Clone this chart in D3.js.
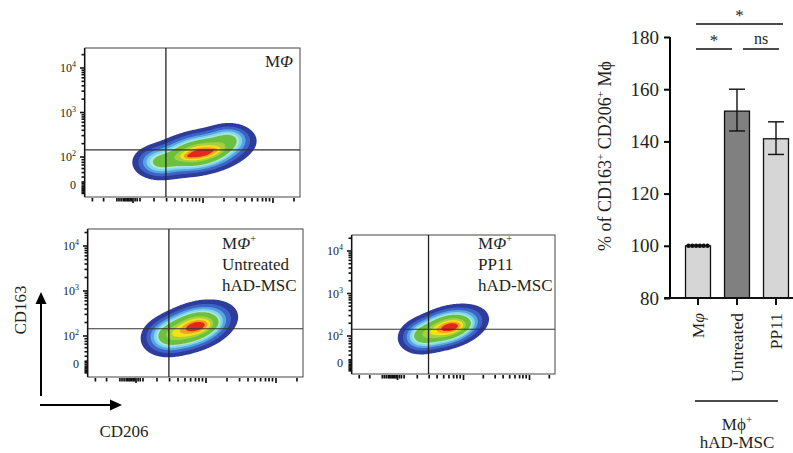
<!DOCTYPE html>
<html><head><meta charset="utf-8">
<script src="https://cdn.jsdelivr.net/npm/d3@7"></script>
<style>
body{margin:0;background:#fff}
svg{display:block}
svg text{font-family:"Liberation Serif","Times New Roman","DejaVu Serif",serif;fill:#231f20}
</style>
</head><body>
<svg id="c" width="793" height="453" font-family="Liberation Serif, Times New Roman, serif"></svg>
<script>
// ---------------- DATA ----------------
// Bar chart
const barCategories = ["Mφ", "Untreated", "PP11"];
const barMeans = [100, 151.6, 141];
const barErrLow = [100, 144, 135];
const barErrHigh = [100, 160, 147.5];
const replicateDots = [100, 100, 100, 100, 100, 100];
const barYTicks = [80, 100, 120, 140, 160, 180];
const sigFrom = [0, 0, 1];
const sigTo = [2, 1, 2];
const sigLabels = ["*", "*", "ns"];
const sigLevel = [2, 1, 1];

// Flow cytometry panels (axis values in decades of fluorescence)
const flowLabelLines = [["MΦ"], ["MΦ+", "Untreated", "hAD-MSC"], ["MΦ+", "PP11", "hAD-MSC"]];
const flowYTickValues = [1.37, 2, 3, 4];
const flowYTickLabels = ["0", "10|2", "10|3", "10|4"];
const flowGateX = [2.47, 2.47, 2.47];
const flowGateY = [2.16, 2.16, 2.16];
const flowXMinorTicks = [1.42, 1.58, 1.77, 1.8, 1.83, 1.86, 1.88, 1.9, 1.92, 1.94, 1.96, 1.98, 2.0, 2.03, 2.06, 2.1,
  2.3, 2.48, 2.6, 2.7, 2.78, 2.85, 2.9, 2.95, 3.0, 3.3, 3.48, 3.6, 3.7, 3.78, 3.85, 3.9, 3.95, 4.0, 4.3];
const flowYMinorTicks = [1.18, 1.21, 1.24, 1.27, 1.3, 1.33, 1.37, 1.41, 1.44, 1.55, 1.65, 1.74, 1.82, 1.88, 1.94, 2.0,
  2.3, 2.48, 2.6, 2.7, 2.78, 2.85, 2.9, 2.95, 3.0, 3.3, 3.48, 3.6, 3.7, 3.78, 3.85, 3.9, 3.95, 4.0, 4.3];
// density components: [centerX, centerY, sigmaX, sigmaY, correlation, weight]
const densityMacrophage = [
  [2.95, 2.10, 0.30, 0.22, 0.32, 1.0],
  [2.36, 1.88, 0.17, 0.18, 0.0, 0.35],
  [3.38, 2.42, 0.16, 0.16, 0.0, 0.3],
  [2.98, 2.08, 0.20, 0.09, 0.5, 0.3],
  [2.78, 2.00, 0.05, 0.04, 0, 0.1],
  [3.17, 2.16, 0.06, 0.04, 0, 0.1]
];
const densityUntreated = [
  [2.82, 2.20, 0.25, 0.24, 0.36, 1.0],
  [2.45, 2.00, 0.17, 0.20, 0.1, 0.35],
  [2.92, 2.23, 0.13, 0.10, 0.3, 0.3]
];
const densityPP11 = [
  [2.76, 2.20, 0.245, 0.22, 0.35, 1.0],
  [2.36, 2.00, 0.16, 0.19, 0.1, 0.35],
  [2.85, 2.22, 0.13, 0.09, 0.3, 0.3]
];
const densityLevels = [0.03, 0.08, 0.14, 0.2, 0.26, 0.31, 0.5, 0.62, 0.74, 0.85];
const densityColors = ["#2f3d9c", "#3e64c8", "#55a6e0", "#7fd6ee", "#b0e6d8", "#6cc040", "#a6d13a", "#f2e21c", "#f5a01c", "#e4261c"];

// ---------------- DRAW ----------------
const FONT = "Liberation Serif, Times New Roman, serif";
const svg = d3.select("#c");

const panels = [
  {box: [85, 48, 215, 149], x2: 133, x4: 273, y2: 157, y4: 68, dens: densityMacrophage, lab: [293, 67], anchor: "end"},
  {box: [88, 229, 215, 148], x2: 136, x4: 276, y2: 336, y4: 246, dens: densityUntreated, lab: [222, 249], anchor: "start"},
  {box: [352, 235, 203, 139], x2: 397.5, x4: 529.5, y2: 336, y4: 251, dens: densityPP11, lab: [478, 249], anchor: "start"}
];

function mix(comps, x, y) {
  let s = 0;
  for (const [cx, cy, sx, sy, r, w] of comps) {
    const u = (x - cx) / sx, v = (y - cy) / sy;
    s += w * Math.exp(-(u * u - 2 * r * u * v + v * v) / (2 * (1 - r * r)));
  }
  return s;
}

const defs = svg.append("defs");
defs.append("filter").attr("id", "soft").append("feGaussianBlur").attr("stdDeviation", 0.7);

panels.forEach((p, i) => {
  const [bx, by, bw, bh] = p.box;
  const xs = d3.scaleLinear().domain([2, 4]).range([p.x2, p.x4]);
  const ys = d3.scaleLinear().domain([2, 4]).range([p.y2, p.y4]);
  const g = svg.append("g");
  defs.append("clipPath").attr("id", "clip" + i).append("rect").attr("x", bx).attr("y", by).attr("width", bw).attr("height", bh);

  const vals = new Array(bw * bh);
  let mx = 0;
  for (let j = 0; j < bh; j++) for (let k = 0; k < bw; k++) {
    const v = mix(p.dens, xs.invert(bx + k + 0.5), ys.invert(by + j + 0.5));
    vals[j * bw + k] = v; if (v > mx) mx = v;
  }
  const conts = d3.contours().size([bw, bh]).thresholds(densityLevels.map(l => l * mx))(vals);
  const path = d3.geoPath();
  g.append("g").attr("clip-path", `url(#clip${i})`).append("g")
    .attr("transform", `translate(${bx},${by})`).attr("filter", "url(#soft)")
    .selectAll("path").data(conts).join("path")
    .attr("d", path).attr("fill", (d, k) => densityColors[k]);

  g.append("rect").attr("x", bx).attr("y", by).attr("width", bw).attr("height", bh)
    .attr("fill", "none").attr("stroke", "#444").attr("stroke-width", 1);
  g.append("line").attr("x1", xs(flowGateX[i])).attr("x2", xs(flowGateX[i])).attr("y1", by).attr("y2", by + bh)
    .attr("stroke", "#222").attr("stroke-width", 1.3);
  g.append("line").attr("x1", bx).attr("x2", bx + bw).attr("y1", ys(flowGateY[i])).attr("y2", ys(flowGateY[i]))
    .attr("stroke", "#333").attr("stroke-width", 1.1);

  g.selectAll(".yt").data(flowYMinorTicks).join("line")
    .attr("x1", d => bx - (Number.isInteger(d) ? 5 : 3.5)).attr("x2", bx)
    .attr("y1", d => ys(d)).attr("y2", d => ys(d)).attr("stroke", "#111").attr("stroke-width", 1.6);
  g.append("line").attr("x1", bx - 0.5).attr("x2", bx - 0.5).attr("y1", by).attr("y2", by + bh).attr("stroke", "#111").attr("stroke-width", 1.2);
  g.selectAll(".xt").data(flowXMinorTicks).join("line")
    .attr("x1", d => xs(d)).attr("x2", d => xs(d))
    .attr("y1", by + bh + 1).attr("y2", d => by + bh + (Number.isInteger(d) ? 6 : 4.5))
    .attr("stroke", "#111").attr("stroke-width", 1.7);

  flowYTickValues.forEach((v, k) => {
    const parts = flowYTickLabels[k].split("|");
    const t = g.append("text").attr("x", bx - 9).attr("y", ys(v) + 4).attr("text-anchor", "end")
      .attr("font-family", FONT).attr("font-size", 12).attr("fill", "#333");
    if (parts.length === 1) t.text(parts[0]);
    else {
      t.append("tspan").text(parts[0]);
      t.append("tspan").attr("font-size", 8).attr("dy", -5).text(parts[1]);
    }
  });

  flowLabelLines[i].forEach((line, k) => {
    const t = g.append("text").attr("x", p.lab[0]).attr("y", p.lab[1] + k * 21)
      .attr("text-anchor", p.anchor).attr("font-family", FONT).attr("font-size", 17);
    if (line.startsWith("MΦ")) {
      t.append("tspan").text("M");
      t.append("tspan").attr("font-style", "italic").text("Φ");
      if (line.endsWith("+")) t.append("tspan").attr("font-size", 11).attr("dy", -7).text("+");
    } else t.text(line);
  });
});

// CD163 / CD206 arrows
const arr = svg.append("g").attr("stroke", "#000").attr("stroke-width", 2);
arr.append("line").attr("x1", 41).attr("y1", 396).attr("x2", 41).attr("y2", 302);
arr.append("line").attr("x1", 40).attr("y1", 405).attr("x2", 112).attr("y2", 405);
svg.append("path").attr("d", "M41,292 L35.5,304 L46.5,304 Z").attr("fill", "#000");
svg.append("path").attr("d", "M122,405 L110,399.5 L110,410.5 Z").attr("fill", "#000");
svg.append("text").attr("transform", "translate(26,310) rotate(-90)").attr("text-anchor", "middle")
  .attr("font-family", FONT).attr("font-size", 17).text("CD163");
svg.append("text").attr("x", 124).attr("y", 437).attr("text-anchor", "middle").attr("font-family", FONT).attr("font-size", 17).text("CD206");

// ---- bar chart ----
const bxs = d3.scaleBand().domain(barCategories).range([678.5, 795.5]).paddingInner(0.36).paddingOuter(0.18);
const bys = d3.scaleLinear().domain([80, 180]).range([298, 37]);
const bg = svg.append("g");

bg.selectAll(".bar").data(barCategories).join("rect")
  .attr("x", d => bxs(d)).attr("width", bxs.bandwidth())
  .attr("y", (d, i) => bys(barMeans[i])).attr("height", (d, i) => bys(80) - bys(barMeans[i]))
  .attr("fill", (d, i) => i === 1 ? "#808080" : "#d6d6d6").attr("stroke", "#111").attr("stroke-width", 1.3);

barCategories.forEach((c, i) => {
  if (barErrHigh[i] === barErrLow[i]) return;
  const cx = bxs(c) + bxs.bandwidth() / 2;
  const e = bg.append("g").attr("stroke", "#111").attr("stroke-width", 1.4);
  e.append("line").attr("x1", cx).attr("x2", cx).attr("y1", bys(barErrHigh[i])).attr("y2", bys(barErrLow[i]));
  e.append("line").attr("x1", cx - 8).attr("x2", cx + 8).attr("y1", bys(barErrHigh[i])).attr("y2", bys(barErrHigh[i]));
  e.append("line").attr("x1", cx - 8).attr("x2", cx + 8).attr("y1", bys(barErrLow[i])).attr("y2", bys(barErrLow[i]));
});

const dotX = d3.scalePoint().domain(d3.range(replicateDots.length)).range([bxs(barCategories[0]) + 3, bxs(barCategories[0]) + bxs.bandwidth() - 3]);
bg.selectAll(".dot").data(replicateDots).join("circle")
  .attr("cx", (d, i) => dotX(i)).attr("cy", d => bys(d)).attr("r", 2.2).attr("fill", "#111");

const yAx = bg.append("g").attr("transform", "translate(670,0)")
  .call(d3.axisLeft(bys).tickValues(barYTicks).tickSize(6).tickPadding(5));
yAx.attr("font-family", FONT);
yAx.select(".domain").attr("stroke-width", 2).attr("d", `M0,${bys(180)}V${bys(80)}`);
yAx.selectAll(".tick line").attr("stroke-width", 2);
yAx.selectAll(".tick text").attr("font-size", 19).attr("font-family", FONT).attr("fill", "#231f20");
bg.append("line").attr("x1", 664).attr("x2", 793).attr("y1", 298).attr("y2", 298).attr("stroke", "#111").attr("stroke-width", 2);
barCategories.forEach((c, i) => {
  const cx = bxs(c) + bxs.bandwidth() / 2;
  bg.append("line").attr("x1", cx).attr("x2", cx).attr("y1", 298).attr("y2", 305).attr("stroke", "#111").attr("stroke-width", 2);
  const t = bg.append("text").attr("transform", `translate(${cx + 6},313) rotate(-90)`).attr("text-anchor", "end")
    .attr("font-family", FONT).attr("font-size", 17.5);
  if (c === "Mφ") { t.append("tspan").text("M"); t.append("tspan").attr("font-style", "italic").text("φ"); }
  else t.text(c);
});

sigLabels.forEach((lab, i) => {
  const c0 = bxs(barCategories[sigFrom[i]]) + bxs.bandwidth() / 2;
  const c1 = bxs(barCategories[sigTo[i]]) + bxs.bandwidth() / 2;
  const y = sigLevel[i] === 2 ? 24 : 49;
  const x1 = c0 + (sigFrom[i] === 0 ? -2 : 6);
  const x2 = c1 + (sigLevel[i] === 2 ? 7 : (sigTo[i] === 1 ? -5 : 3));
  bg.append("line").attr("x1", x1).attr("x2", x2).attr("y1", y).attr("y2", y).attr("stroke", "#111").attr("stroke-width", 1.6);
  bg.append("text").attr("x", (x1 + x2) / 2).attr("y", lab === "*" ? y - 3 : y - 5)
    .attr("text-anchor", "middle").attr("font-family", FONT).attr("font-size", lab === "*" ? 17 : 16).text(lab);
});

const yl = bg.append("text").attr("transform", "translate(611,156) rotate(-90)").attr("text-anchor", "middle")
  .attr("font-family", FONT).attr("font-size", 18);
yl.append("tspan").text("% of CD163");
yl.append("tspan").attr("font-size", 11).attr("dy", -7).text("+");
yl.append("tspan").attr("dy", 7).text(" CD206");
yl.append("tspan").attr("font-size", 11).attr("dy", -7).text("+");
yl.append("tspan").attr("dy", 7).text(" Mϕ");

bg.append("line").attr("x1", 695).attr("x2", 778).attr("y1", 401).attr("y2", 401).attr("stroke", "#111").attr("stroke-width", 1.4);
const gl = bg.append("text").attr("x", 737).attr("y", 430).attr("text-anchor", "middle").attr("font-family", FONT).attr("font-size", 17);
gl.append("tspan").text("Mϕ");
gl.append("tspan").attr("font-size", 11).attr("dy", -7).text("+");
bg.append("text").attr("x", 737).attr("y", 448).attr("text-anchor", "middle").attr("font-family", FONT).attr("font-size", 17).text("hAD-MSC");
</script>
</body></html>
